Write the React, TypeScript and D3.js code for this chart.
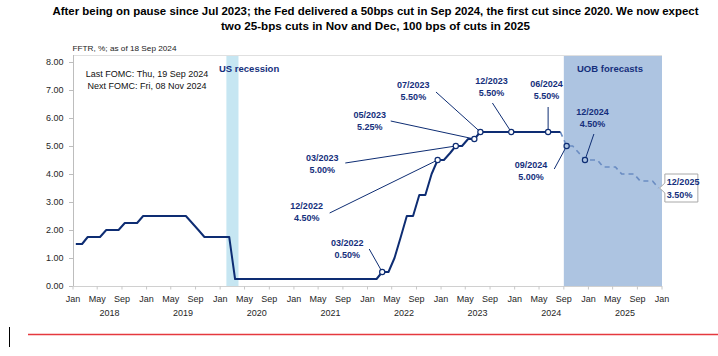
import React from "react";
import * as d3 from "d3";

// ---------- DATA ----------
const titleLines = [
  "After being on pause since Jul 2023; the Fed delivered a 50bps cut in Sep 2024, the first cut since 2020. We now expect",
  "two 25-bps cuts in Nov and Dec, 100 bps of cuts in 2025",
];
const subtitle = "FFTR, %; as of 18 Sep 2024";
const fomcNotes = ["Last FOMC: Thu, 19 Sep 2024", "Next FOMC: Fri, 08 Nov 2024"];

// Monthly fed funds target (upper bound), Jan 2018 .. Aug 2024
const histStart = { year: 2018, month: 0 };
const histValues = [
  // 2018
  1.5, 1.5, 1.75, 1.75, 1.75, 2.0, 2.0, 2.0, 2.25, 2.25, 2.25, 2.5,
  // 2019
  2.5, 2.5, 2.5, 2.5, 2.5, 2.5, 2.5, 2.25, 2.0, 1.75, 1.75, 1.75,
  // 2020
  1.75, 1.75, 0.25, 0.25, 0.25, 0.25, 0.25, 0.25, 0.25, 0.25, 0.25, 0.25,
  // 2021
  0.25, 0.25, 0.25, 0.25, 0.25, 0.25, 0.25, 0.25, 0.25, 0.25, 0.25, 0.25,
  // 2022
  0.25, 0.25, 0.5, 0.5, 1.0, 1.75, 2.5, 2.5, 3.25, 3.25, 4.0, 4.5,
  // 2023
  4.5, 4.75, 5.0, 5.0, 5.25, 5.25, 5.5, 5.5, 5.5, 5.5, 5.5, 5.5,
  // 2024 (Jan..Aug)
  5.5, 5.5, 5.5, 5.5, 5.5, 5.5, 5.5, 5.5,
];

// UOB forecast path, Aug 2024 .. Dec 2025
const fcStart = { year: 2024, month: 7 };
const fcValues = [
  5.5, 5.0, 5.0, 4.75, 4.5,
  4.5, 4.5, 4.25, 4.25, 4.25, 4.0, 4.0, 4.0, 3.75, 3.75, 3.75, 3.5,
];

// Annotated points: [year, month(1-12), value]
const annotations: [number, number, number][] = [
  [2022, 3, 0.5],
  [2022, 12, 4.5],
  [2023, 3, 5.0],
  [2023, 6, 5.25],
  [2023, 7, 5.5],
  [2023, 12, 5.5],
  [2024, 6, 5.5],
  [2024, 9, 5.0],
  [2024, 12, 4.5],
];
// label shown for each annotation (month/year text)
const annotationDates = ["03/2022", "12/2022", "03/2023", "05/2023", "07/2023", "12/2023", "06/2024", "09/2024", "12/2024"];
const endLabel = ["12/2025", "3.50%"];

const recession = ["2020-02-01", "2020-04-01"];
const forecastBand = ["2024-09-01", "2026-01-01"];
const bandLabels = ["US recession", "UOB forecasts"];
const yTicks = [0, 1, 2, 3, 4, 5, 6, 7, 8];
const years = [2018, 2019, 2020, 2021, 2022, 2023, 2024, 2025];

// ---------- LAYOUT (label offsets relative to their point) ----------
// [labelDx, labelDy(baseline of first line), leaderDx, leaderDy]
const annLayout: [number, number, number, number][] = [
  [-35, -26, -13, -23],
  [-131, 49, -108, 53],
  [-133.5, 14.5, -110.5, 17],
  [-104.6, -21, -83.6, -18],
  [-67, -44, -44.4, -40],
  [-19.8, -48, -18.8, -29],
  [-1.6, -45, 0, -25],
  [-35.7, 22, -12.4, 23],
  [7.6, -45, 8.9, -26],
];

const FONT = "'Liberation Sans', Arial, Helvetica, sans-serif";
const NAVY = "#0e2d73";
const LABEL = "#152f7c";

const monthDate = (y: number, m: number) => new Date(y, m, 15);

export default function App() {
  const W = 718;
  const H = 356;
  const x = d3
    .scaleTime()
    .domain([new Date(2018, 0, 1), new Date(2026, 0, 1)])
    .range([73, 662]);
  const y = d3.scaleLinear().domain([0, 8.25]).range([286, 55]);

  const hist: [Date, number][] = histValues.map((v, i) => [
    monthDate(histStart.year, histStart.month + i),
    v,
  ]);
  const fc: [Date, number][] = fcValues.map((v, i) => [
    monthDate(fcStart.year, fcStart.month + i),
    v,
  ]);
  const line = d3
    .line<[Date, number]>()
    .x((d) => x(d[0]))
    .y((d) => y(d[1]));

  const xTicks = d3.timeMonth.every(4)!.range(new Date(2018, 0, 1), new Date(2026, 0, 2));
  const fmtMonth = d3.timeFormat("%b");

  const last = fc[fc.length - 1];
  const lx = x(last[0]);
  const ly = y(last[1]);
  const bx = lx + 6.3;
  const by = ly - 14;
  const bw = 33;
  const bh = 28;
  const calloutPath = `M${bx},${by} H${bx + bw} V${by + bh} H${bx} V${by + 19} L${lx + 1},${ly} L${bx},${by + 9} Z`;

  return (
    <svg width={W} height={H} style={{ display: "block", position: "absolute", left: 0, top: 0 }} fontFamily={FONT}>
      <rect x={0} y={0} width={W} height={H} fill="#fff" />

      {/* title */}
      {titleLines.map((t, i) => (
        <text
          key={i}
          x={375.5}
          y={15 + i * 14.5}
          textAnchor="middle"
          fontSize={11}
          fontWeight="bold"
          fill="#000"
          textLength={i === 0 ? 646 : 309}
          lengthAdjust="spacingAndGlyphs"
        >
          {t}
        </text>
      ))}
      <text x={72.5} y={51} fontSize={8} fill="#222" textLength={104} lengthAdjust="spacingAndGlyphs">
        {subtitle}
      </text>

      {/* bands */}
      <rect
        x={x(new Date(recession[0]))}
        y={y(8.25)}
        width={x(new Date(recession[1])) - x(new Date(recession[0]))}
        height={y(0) - y(8.25)}
        fill="#c6e6f2"
      />
      <rect
        x={x(new Date(forecastBand[0]))}
        y={y(8.25)}
        width={x(new Date(forecastBand[1])) - x(new Date(forecastBand[0]))}
        height={y(0) - y(8.25)}
        fill="#adc4e1"
      />
      <text x={219} y={72} fontSize={9.5} fontWeight="bold" fill={LABEL}>
        {bandLabels[0]}
      </text>
      <text x={610} y={72} fontSize={9.5} fontWeight="bold" fill={LABEL} textAnchor="middle">
        {bandLabels[1]}
      </text>

      {/* frame / axes */}
      <line x1={73} x2={662} y1={55.5} y2={55.5} stroke="#e0e0e0" />
      <line x1={73.5} x2={73.5} y1={55} y2={286} stroke="#bdbdbd" />
      <line x1={73} x2={662} y1={286.5} y2={286.5} stroke="#d0d0d0" />
      {yTicks.map((t) => (
        <g key={t}>
          <line x1={69} x2={73} y1={y(t) + 0.5} y2={y(t) + 0.5} stroke="#bdbdbd" />
          <text x={63.5} y={y(t) + 3.2} fontSize={9} textAnchor="end" fill="#262626">
            {d3.format(".2f")(t)}
          </text>
        </g>
      ))}
      {xTicks.map((d, i) => (
        <g key={i}>
          <line x1={x(d)} x2={x(d)} y1={286} y2={289.5} stroke="#c8c8c8" />
          <text x={x(d)} y={302} fontSize={9} textAnchor="middle" fill="#262626">
            {fmtMonth(d)}
          </text>
        </g>
      ))}
      {years.map((yr) => (
        <text key={yr} x={x(new Date(yr, 6, 1))} y={316} fontSize={9} textAnchor="middle" fill="#262626">
          {yr}
        </text>
      ))}

      {/* FOMC notes */}
      {fomcNotes.map((t, i) => (
        <text key={i} x={147} y={77 + i * 12} fontSize={9} textAnchor="middle" fill="#111">
          {t}
        </text>
      ))}

      {/* lines */}
      <path d={line(fc) || ""} fill="none" stroke="#6a8cc2" strokeWidth={1.6} strokeDasharray="5,4" />
      <path d={line(hist) || ""} fill="none" stroke={NAVY} strokeWidth={2} strokeLinejoin="round" />

      {/* annotations */}
      {annotations.map(([yr, mo, v], i) => {
        const px = x(monthDate(yr, mo - 1));
        const py = y(v);
        const [ldx, ldy, sdx, sdy] = annLayout[i];
        const isFc = new Date(yr, mo - 1, 15) > new Date(2024, 7, 31);
        return (
          <g key={i}>
            <line x1={px + sdx} y1={py + sdy} x2={px} y2={py} stroke={NAVY} strokeWidth={1} />
            <circle cx={px} cy={py} r={2.6} fill={isFc ? "#adc4e1" : "#fff"} stroke={NAVY} strokeWidth={1.2} />
            <text x={px + ldx} y={py + ldy} fontSize={9} fontWeight="bold" textAnchor="middle" fill={LABEL}>
              {annotationDates[i]}
            </text>
            <text x={px + ldx} y={py + ldy + 12} fontSize={9} fontWeight="bold" textAnchor="middle" fill={LABEL}>
              {d3.format(".2f")(v) + "%"}
            </text>
          </g>
        );
      })}

      {/* end callout */}
      <path d={calloutPath} fill="#fff" stroke="#a8a8a8" strokeWidth={1} />
      <text x={bx + 2} y={by + 11} fontSize={9} fontWeight="bold" fill={LABEL}>
        {endLabel[0]}
      </text>
      <text x={bx + 2} y={by + 24} fontSize={9} fontWeight="bold" fill={LABEL}>
        {endLabel[1]}
      </text>

      {/* page decoration */}
      <line x1={28} x2={718} y1={334.5} y2={334.5} stroke="#e5393f" strokeWidth={1.5} />
      <line x1={9.5} x2={9.5} y1={327} y2={347} stroke="#000" strokeWidth={1} />
    </svg>
  );
}
